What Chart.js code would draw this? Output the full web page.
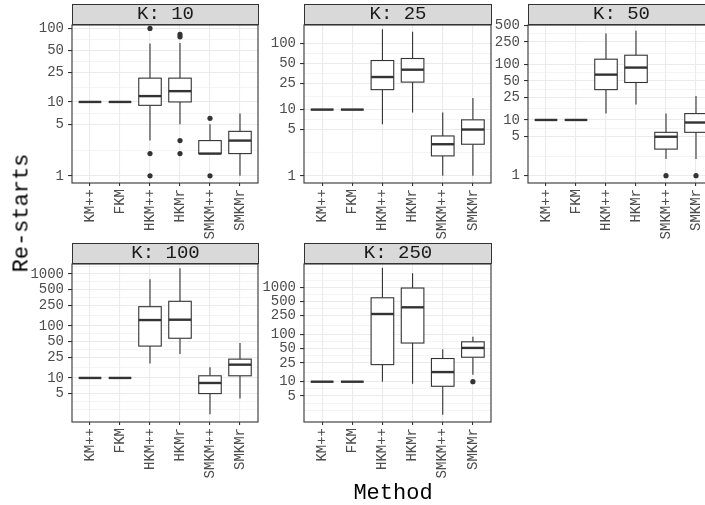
<!DOCTYPE html>
<html>
<head>
<meta charset="utf-8">
<script src="https://cdn.jsdelivr.net/npm/chart.js@4/dist/chart.umd.min.js"></script>
<style>
  html, body { margin: 0; padding: 0; background: #fff; }
  #fig { position: relative; width: 705px; height: 505px; overflow: hidden; background: #fff; }
  #fig canvas { position: absolute; }
  .strip {
    position: absolute; box-sizing: border-box; height: 21px;
    background: #d9d9d9; border: 1px solid #333;
    font: 19px "Liberation Mono", monospace; color: #1a1a1a;
    text-align: center; line-height: 19px; white-space: pre;
  }
  .axis-title {
    position: absolute; font: 22px "Liberation Mono", monospace; color: #000;
    white-space: nowrap; transform: translate(-50%, -50%);
  }
</style>
</head>
<body>
<div id="fig"></div>
<script>
// Methods compared in every facet
const methods = ['KM++', 'FKM', 'HKM++', 'HKMr', 'SMKM++', 'SMKMr'];
const kValues = [10, 25, 50, 100, 250];

// Box summaries per method: [lower whisker, Q1, median, Q3, upper whisker]
const boxesK10 = [[10,10,10,10,10], [10,10,10,10,10], [3,9,12,21,62], [5,10,14,21,63], [2,2,2,3,5], [1,2,3,4,7]];
const boxesK25 = [[10,10,10,10,10], [10,10,10,10,10], [6,20,31,55,163], [9,26,40,59,150], [1,2,3,4,9], [1,3,5,7,15]];
const boxesK50 = [[10,10,10,10,10], [10,10,10,10,10], [13,35,65,123,355], [19,47,87,145,400], [2,3,5,6,13], [2,6,9,13,27]];
const boxesK100 = [[10,10,10,10,10], [10,10,10,10,10], [19,41,130,235,790], [29,58,132,298,1290], [2,5,8,11,16], [4,11,18,23,47]];
const boxesK250 = [[10,10,10,10,10], [10,10,10,10,10], [10,23,272,600,2600], [9,66,377,966,1980], [2,8,16,31,49], [14,33,52,70,90]];

// Outlying runs per method
const outliersK10 = [[], [], [99, 2, 1], [82, 76, 3, 2], [6, 1], []];
const outliersK25 = [[], [], [], [], [], []];
const outliersK50 = [[], [], [], [], [1], [1]];
const outliersK100 = [[], [], [], [], [], []];
const outliersK250 = [[], [], [], [], [], [10]];

// Labelled y breaks per facet
const yTicksK10 = [1, 5, 10, 25, 50, 100];
const yTicksK25 = [1, 5, 10, 25, 50, 100];
const yTicksK50 = [1, 5, 10, 25, 50, 100, 250, 500];
const yTicksK100 = [5, 10, 25, 50, 100, 250, 500, 1000];
const yTicksK250 = [5, 10, 25, 50, 100, 250, 500, 1000];

// Facet layout: panel left edge, strip top, panel width, y range
const STRIP_H = 21, PANEL_H = 158, AXIS_W = 62, XLAB_H = 70, PAD_R = 4;
const panels = [
  { k: kValues[0], boxes: boxesK10, outliers: outliersK10, yTicks: yTicksK10, yMin: 0.8, yMax: 110, left: 72, top: 4, width: 186 },
  { k: kValues[1], boxes: boxesK25, outliers: outliersK25, yTicks: yTicksK25, yMin: 0.78, yMax: 189, left: 304, top: 4, width: 187 },
  { k: kValues[2], boxes: boxesK50, outliers: outliersK50, yTicks: yTicksK50, yMin: 0.74, yMax: 505, left: 528, top: 4, width: 186 },
  { k: kValues[3], boxes: boxesK100, outliers: outliersK100, yTicks: yTicksK100, yMin: 1.42, yMax: 1557, left: 72, top: 243, width: 186 },
  { k: kValues[4], boxes: boxesK250, outliers: outliersK250, yTicks: yTicksK250, yMin: 1.4, yMax: 3120, left: 304, top: 243, width: 187 }
];

const FONT = 'Liberation Mono';
const INK = '#333333';
const GRID = '#ebebeb';
const BOX_HALF = 0.375;

// Minor breaks halfway between majors in log space, extended one step past each end
function minorBreaks(majors, min, max) {
  const lmin = Math.log10(min), lmax = Math.log10(max);
  const b = majors.filter(v => v >= min && v <= max).map(Math.log10);
  const bd = b[1] - b[0];
  if (lmin < b[0]) b.unshift(b[0] - bd);
  if (lmax > b[b.length - 1]) b.push(b[b.length - 1] + bd);
  const out = [];
  for (let i = 0; i < b.length - 1; i++) out.push(b[i], (b[i] + b[i + 1]) / 2);
  out.push(b[b.length - 1]);
  const majorLogs = majors.map(Math.log10);
  return out
    .filter(v => v > lmin && v < lmax && !majorLogs.some(m => Math.abs(m - v) < 1e-9))
    .map(v => Math.pow(10, v));
}

// Draws whiskers, boxes and medians through the chart scales
const boxPlugin = {
  id: 'boxes',
  beforeDatasetsDraw(chart, args, opts) {
    const { ctx, chartArea, scales: { x, y } } = chart;
    ctx.save();
    ctx.beginPath();
    ctx.rect(chartArea.left, chartArea.top, chartArea.width, chartArea.height);
    ctx.clip();
    opts.boxes.forEach((s, i) => {
      const [lo, q1, med, q3, hi] = s;
      const cx = x.getPixelForValue(i);
      const x0 = x.getPixelForValue(i - BOX_HALF);
      const x1 = x.getPixelForValue(i + BOX_HALF);
      const yLo = y.getPixelForValue(lo), yQ1 = y.getPixelForValue(q1);
      const yMed = y.getPixelForValue(med), yQ3 = y.getPixelForValue(q3);
      const yHi = y.getPixelForValue(hi);
      ctx.strokeStyle = INK;
      ctx.lineWidth = 1.1;
      ctx.beginPath();
      ctx.moveTo(cx, yHi); ctx.lineTo(cx, yQ3);
      ctx.moveTo(cx, yQ1); ctx.lineTo(cx, yLo);
      ctx.stroke();
      ctx.fillStyle = '#ffffff';
      ctx.fillRect(x0, yQ3, x1 - x0, yQ1 - yQ3);
      ctx.strokeRect(x0, yQ3, x1 - x0, yQ1 - yQ3);
      ctx.lineWidth = 2.4;
      ctx.beginPath();
      ctx.moveTo(x0, yMed); ctx.lineTo(x1, yMed);
      ctx.stroke();
    });
    ctx.restore();
  }
};

// Panel frame drawn on top of the marks
const framePlugin = {
  id: 'frame',
  afterDatasetsDraw(chart) {
    const { ctx, chartArea: a } = chart;
    ctx.save();
    ctx.strokeStyle = INK;
    ctx.lineWidth = 1.1;
    ctx.strokeRect(a.left, a.top, a.right - a.left, a.bottom - a.top);
    ctx.restore();
  }
};

const fig = document.getElementById('fig');

panels.forEach(p => {
  const canvas = document.createElement('canvas');
  const cw = AXIS_W + p.width + PAD_R;
  const ch = STRIP_H + PANEL_H + XLAB_H;
  canvas.width = cw; canvas.height = ch;
  canvas.style.width = cw + 'px'; canvas.style.height = ch + 'px';
  canvas.style.left = (p.left - AXIS_W) + 'px';
  canvas.style.top = p.top + 'px';
  fig.appendChild(canvas);

  const strip = document.createElement('div');
  strip.className = 'strip';
  strip.style.left = p.left + 'px';
  strip.style.top = p.top + 'px';
  strip.style.width = (p.width + 1) + 'px';
  strip.textContent = 'K: ' + p.k;
  fig.appendChild(strip);

  const majorSet = new Set(p.yTicks);
  const allTicks = p.yTicks.filter(v => v >= p.yMin && v <= p.yMax)
    .concat(minorBreaks(p.yTicks, p.yMin, p.yMax))
    .sort((a, b) => a - b);
  const isMajor = c => c.tick && majorSet.has(c.tick.value);

  const points = [];
  p.outliers.forEach((vals, i) => vals.forEach(v => points.push({ x: i, y: v })));

  new Chart(canvas, {
    type: 'scatter',
    data: {
      datasets: [{
        data: points,
        pointRadius: 2.6,
        pointHoverRadius: 2.6,
        backgroundColor: INK,
        borderColor: INK,
        borderWidth: 0
      }]
    },
    options: {
      responsive: false,
      animation: false,
      devicePixelRatio: 1,
      events: [],
      layout: { padding: { top: STRIP_H, right: PAD_R, left: 0, bottom: 0 } },
      plugins: {
        legend: { display: false },
        tooltip: { enabled: false },
        boxes: { boxes: p.boxes }
      },
      scales: {
        x: {
          type: 'linear', min: -0.6, max: 5.6, bounds: 'data',
          afterBuildTicks: s => { s.ticks = methods.map((_, i) => ({ value: i })); },
          afterFit: s => { s.height = XLAB_H; },
          ticks: {
            autoSkip: false, minRotation: 90, maxRotation: 90, padding: 3,
            color: '#4d4d4d', font: { family: FONT, size: 14 },
            callback: v => methods[v]
          },
          grid: { color: GRID, lineWidth: 1.1, tickColor: INK, tickLength: 3, tickWidth: 1.1 },
          border: { display: false }
        },
        y: {
          type: 'logarithmic', min: p.yMin, max: p.yMax, bounds: 'data',
          afterBuildTicks: s => { s.ticks = allTicks.map(v => ({ value: v })); },
          afterFit: s => { s.width = AXIS_W; },
          ticks: {
            autoSkip: false, padding: 4,
            color: '#4d4d4d', font: { family: FONT, size: 14 },
            callback: v => (majorSet.has(v) ? String(v) : '')
          },
          grid: {
            color: GRID,
            lineWidth: c => (isMajor(c) ? 1.1 : 0.55),
            tickColor: c => (isMajor(c) ? INK : 'rgba(0,0,0,0)'),
            tickLength: 4,
            tickWidth: 1.1
          },
          border: { display: false }
        }
      }
    },
    plugins: [boxPlugin, framePlugin]
  });
});

// Shared axis titles
const yTitle = document.createElement('div');
yTitle.className = 'axis-title';
yTitle.textContent = 'Re-starts';
yTitle.style.left = '22px';
yTitle.style.top = '213px';
yTitle.style.transform = 'translate(-50%, -50%) rotate(-90deg)';
fig.appendChild(yTitle);

const xTitle = document.createElement('div');
xTitle.className = 'axis-title';
xTitle.textContent = 'Method';
xTitle.style.left = '393px';
xTitle.style.top = '493px';
fig.appendChild(xTitle);
</script>
</body>
</html>
